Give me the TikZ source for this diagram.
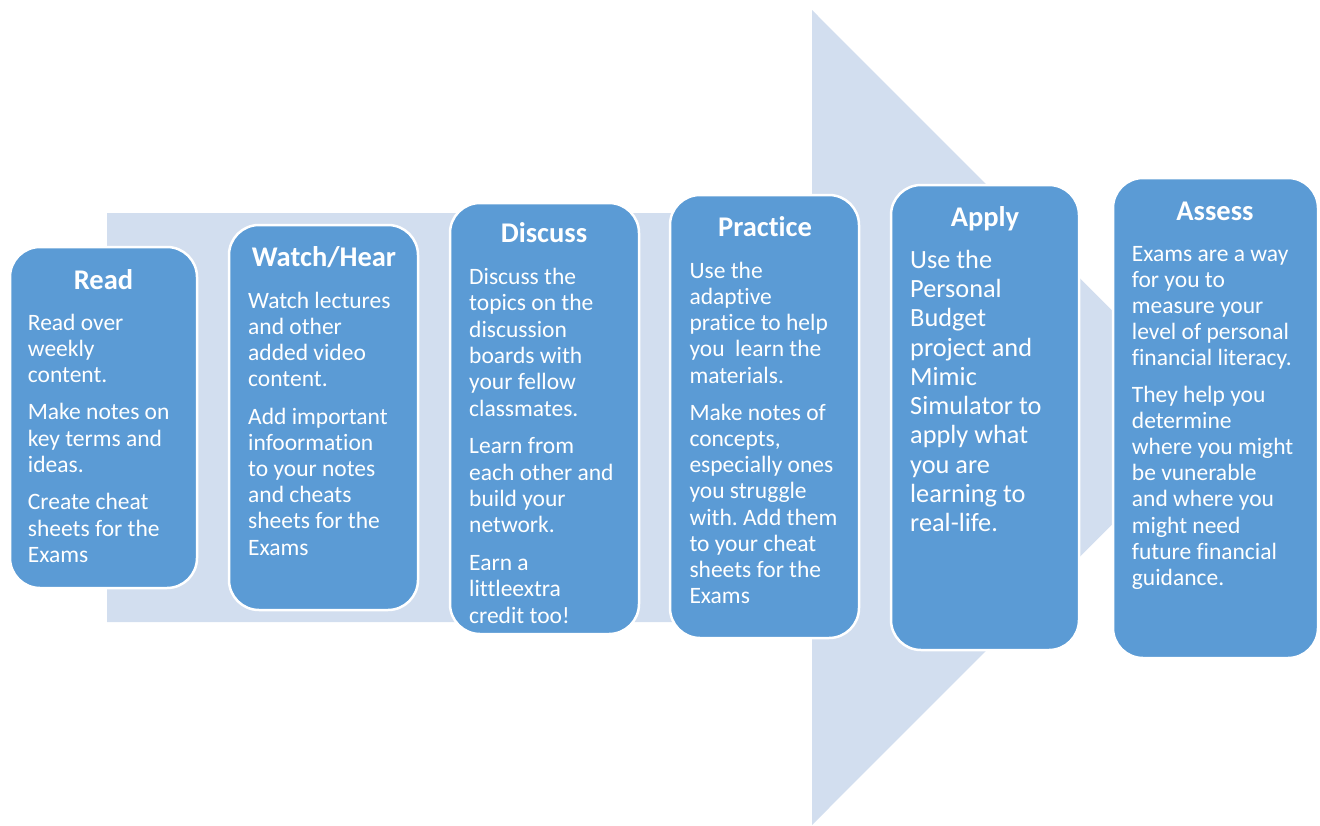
\documentclass[tikz,border=0pt]{standalone}
\usepackage{fontspec}
\setmainfont[Ligatures={NoCommon,NoContextual},RawFeature={-liga;-clig}]{Carlito}
\frenchspacing
\definecolor{boxblue}{HTML}{5B9BD5}
\definecolor{arrowfill}{HTML}{D2DEEF}
\newcommand\stepbody[4]{\begin{minipage}[t]{#1}\fontsize{#2}{#3}\selectfont\raggedright\setlength\parskip{11pt}#4\end{minipage}}
\tikzset{
  stepbox/.style={draw=white, line width=2.5pt, fill=boxblue, rounded corners=30pt, inner sep=0pt},
  steptitle/.style={anchor=base, inner sep=0pt, text=white, font=\fontsize{28.5}{34}\selectfont\bfseries},
  stepbodynode/.style={anchor=base west, inner sep=0pt, text=white}
}
\begin{document}
\begin{tikzpicture}[x=1pt,y=-1pt]
\useasboundingbox (0,0) rectangle (1320,825);
% big background arrow
\fill[arrowfill] (107,213) -- (812,213) -- (812,10) -- (1219,417.5) -- (812,825) -- (812,622) -- (107,622) -- cycle;

% boxes
\node[stepbox, minimum width=187, minimum height=341] (read) at (103.5,417.5) {};
\node[stepbox, minimum width=189, minimum height=385] (watch) at (323.5,417.5) {};
\node[stepbox, minimum width=189, minimum height=431] (discuss) at (544.5,418.5) {};
\node[stepbox, minimum width=189, minimum height=443] (practice) at (764.5,416.5) {};
\node[stepbox, minimum width=188, minimum height=465] (apply) at (985,417.5) {};
\node[stepbox, minimum width=205, minimum height=480] (assess) at (1215.5,418) {};

% titles
\node[steptitle] (readT) at (103.5,289.3) {Read};
\node[steptitle] (watchT) at (324,266.7) {Watch/Hear};
\node[steptitle] (discussT) at (544,242.7) {Discuss};
\node[steptitle] (practiceT) at (765,236.7) {Practice};
\node[steptitle] (applyT) at (985,226) {Apply};
\node[steptitle] (assessT) at (1215,220) {Assess};

% bodies
\node[stepbodynode] (readB) at (27.7,330) {\stepbody{170pt}{23.5}{26.3}{%
Read over\\weekly\\content.\par
Make notes on\\key terms and\\ideas.\par
Create cheat\\sheets for the\\Exams}};
\node[stepbodynode] (watchB) at (248,308.3) {\stepbody{170pt}{23.5}{26.2}{%
Watch lectures\\and other\\added video\\content.\par
Add important\\infoormation\\to your notes\\and cheats\\sheets for the\\Exams}};
\node[stepbodynode] (discussB) at (469,284.3) {\stepbody{170pt}{23.5}{26.4}{%
Discuss the\\topics on the\\discussion\\boards with\\your fellow\\classmates.\par
Learn from\\each other and\\build your\\network.\par
Earn a\\littleextra\\credit too!}};
\node[stepbodynode] (practiceB) at (689.3,278.3) {\stepbody{170pt}{23.5}{26.2}{%
Use the\\adaptive\\pratice to help\\you~~learn the\\materials.\par
Make notes of\\concepts,\\especially ones\\you struggle\\with. Add them\\to your cheat\\sheets for the\\Exams}};
\node[stepbodynode] (applyB) at (910,268.3) {\stepbody{170pt}{26.3}{29.26}{%
Use the\\Personal\\Budget\\project and\\Mimic\\Simulator to\\apply what\\you are\\learning to\\real-life.}};
\node[stepbodynode] (assessB) at (1131.7,261) {\stepbody{190pt}{23.5}{26.1}{%
Exams are a way\\for you to\\measure your\\level of personal\\financial literacy.\par
They help you\\determine\\where you might\\be vunerable\\and where you\\might need\\future financial\\guidance.}};
\end{tikzpicture}
\end{document}
